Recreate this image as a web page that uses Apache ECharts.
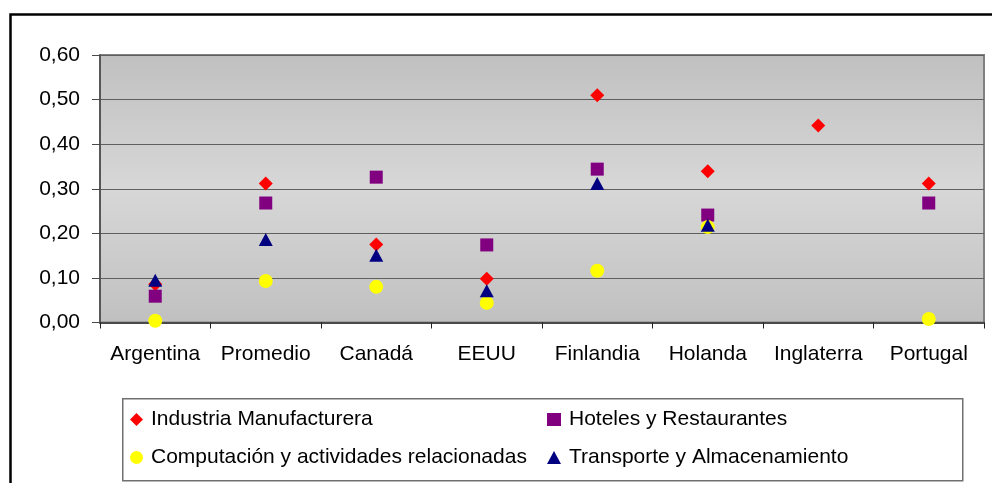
<!DOCTYPE html>
<html>
<head>
<meta charset="utf-8">
<script src="https://cdn.jsdelivr.net/npm/echarts@6/dist/echarts.min.js"></script>
<style>
  html, body { margin: 0; padding: 0; background: #fff; }
  #chart { width: 992px; height: 483px; }
</style>
</head>
<body>
<div id="chart"></div>
<script>
// Países / referencia
const categories = ['Argentina', 'Promedio', 'Canadá', 'EEUU', 'Finlandia', 'Holanda', 'Inglaterra', 'Portugal'];

// Valores por sector
const industriaManufacturera = [0.086, 0.312, 0.175, 0.098, 0.510, 0.339, 0.442, 0.312];
const hotelesRestaurantes    = [0.059, 0.268, 0.326, 0.174, 0.344, 0.241, null, 0.268];
const computacion            = [0.004, 0.093, 0.080, 0.044, 0.116, 0.214, null, 0.008];
const transporte             = [0.095, 0.186, 0.151, 0.071, 0.312, 0.218, null, null];

const yTicks = { min: 0, max: 0.6, interval: 0.1 };

const FONT = '"Liberation Sans", Arial, sans-serif';
const FS = 21;

const chart = echarts.init(document.getElementById('chart'), null, { renderer: 'canvas' });

function series(name, data, symbol, size, color) {
  return {
    name, type: 'scatter', data, symbol, symbolSize: size,
    itemStyle: { color, opacity: 1 },
    emphasis: { disabled: true }
  };
}

const legendText = { fontSize: FS, color: '#000', fontFamily: FONT, padding: [0, 0, 0, 3] };

chart.setOption({
  animation: false,
  backgroundColor: '#fff',
  textStyle: { fontFamily: FONT },
  graphic: [
    // marco exterior del gráfico
    { type: 'rect', left: 8, top: 12, shape: { x: 0, y: 0, width: 1000, height: 500 },
      style: { fill: 'none', stroke: '#000', lineWidth: 2.5 }, z: -10 },
    // caja de la leyenda
    { type: 'rect', left: 122, top: 398, shape: { x: 0, y: 0, width: 840, height: 82 },
      style: { fill: '#fff', stroke: '#707070', lineWidth: 1.5 }, z: -5 }
  ],
  grid: {
    left: 100, right: 8, top: 55, bottom: 160.5,
    show: true,
    backgroundColor: {
      type: 'linear', x: 0, y: 0, x2: 0, y2: 1,
      colorStops: [
        { offset: 0, color: '#c0c0c0' },
        { offset: 0.5, color: '#d7d7d7' },
        { offset: 1, color: '#c0c0c0' }
      ]
    },
    borderColor: '#808080', borderWidth: 2
  },
  xAxis: {
    type: 'category', data: categories, boundaryGap: true,
    axisLine: { lineStyle: { color: '#4a4a4a', width: 2 } },
    axisTick: { show: true, interval: 0, length: 6, lineStyle: { color: '#222', width: 1 } },
    axisLabel: { color: '#000', fontSize: FS, margin: 21, interval: 0, fontFamily: FONT },
    splitLine: { show: false }
  },
  yAxis: {
    type: 'value', min: yTicks.min, max: yTicks.max, interval: yTicks.interval,
    axisLine: { show: true, lineStyle: { color: '#4a4a4a', width: 1.5 } },
    axisTick: { show: true, length: 8, lineStyle: { color: '#4a4a4a' } },
    axisLabel: {
      color: '#000', fontSize: FS, margin: 20, fontFamily: FONT,
      formatter: v => v.toFixed(2).replace('.', ',')
    },
    splitLine: { show: true, lineStyle: { color: '#5f5f5f', width: 1.2 } }
  },
  legend: [
    {
      data: ['Industria Manufacturera', 'Computación y actividades relacionadas'],
      orient: 'vertical', left: 125, top: 404, itemGap: 17,
      itemWidth: 13, itemHeight: 13, selectedMode: false,
      textStyle: legendText
    },
    {
      data: ['Hoteles y Restaurantes', 'Transporte y Almacenamiento'],
      orient: 'vertical', left: 542, top: 404, itemGap: 17,
      itemWidth: 14, itemHeight: 13, selectedMode: false,
      textStyle: legendText
    }
  ],
  series: [
    series('Industria Manufacturera', industriaManufacturera, 'diamond', [14, 14], '#ff0000'),
    series('Hoteles y Restaurantes', hotelesRestaurantes, 'rect', [13, 13], '#800080'),
    series('Computación y actividades relacionadas', computacion, 'circle', 14, '#ffff00'),
    series('Transporte y Almacenamiento', transporte, 'triangle', [14, 13], '#000080')
  ]
});
</script>
</body>
</html>
